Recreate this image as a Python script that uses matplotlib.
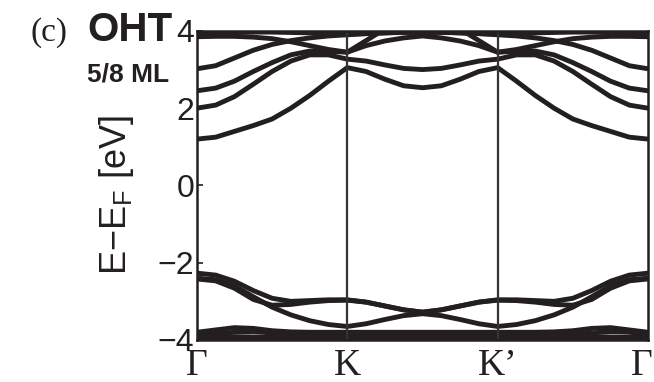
import numpy as np
import matplotlib
matplotlib.use("Agg")
import matplotlib.pyplot as plt
import matplotlib.transforms as mtransforms

plt.rcParams['font.family'] = ['Liberation Sans', 'DejaVu Sans']
plt.rcParams['mathtext.fontset'] = 'custom'
plt.rcParams['mathtext.rm'] = 'Liberation Sans'
plt.rcParams['mathtext.it'] = 'Liberation Sans:italic'

# path position: Γ=0, K=1, K'=2, Γ=3
k_path = [0, 0.125, 0.25, 0.375, 0.5, 0.625, 0.75, 0.875, 1,
          1.125, 1.25, 1.375, 1.5, 1.625, 1.75, 1.875, 2,
          2.125, 2.25, 2.375, 2.5, 2.625, 2.75, 2.875, 3]
k_ticks = [0, 1, 2, 3]
k_labels = ['Γ', 'K', 'K’', 'Γ']

# conduction bands (eV)
c1 = [1.20, 1.25, 1.40, 1.55, 1.72, 2.00, 2.33, 2.70, 3.05, 2.95, 2.75, 2.58, 2.53,
      2.58, 2.75, 2.95, 3.05, 2.70, 2.33, 2.00, 1.72, 1.55, 1.40, 1.25, 1.20]
c2 = [2.00, 2.08, 2.30, 2.62, 2.95, 3.22, 3.38, 3.38, 3.27, 3.22, 3.12, 3.03, 3.00,
      3.03, 3.12, 3.22, 3.27, 3.38, 3.38, 3.22, 2.95, 2.62, 2.30, 2.08, 2.00]
c3 = [2.45, 2.52, 2.70, 2.95, 3.18, 3.38, 3.48, 3.47, 3.45, 3.75, 4.05, 4.25, 4.30,
      4.25, 4.05, 3.75, 3.45, 3.47, 3.48, 3.38, 3.18, 2.95, 2.70, 2.52, 2.45]
c4 = [3.02, 3.10, 3.30, 3.50, 3.65, 3.75, 3.82, 3.87, 3.90, 3.93, 3.95, 3.96, 3.96,
      3.96, 3.95, 3.93, 3.90, 3.87, 3.82, 3.75, 3.65, 3.50, 3.30, 3.10, 3.02]
c5 = [3.85, 3.86, 3.86, 3.84, 3.80, 3.72, 3.62, 3.52, 3.45, 3.62, 3.74, 3.82, 3.87,
      3.82, 3.74, 3.62, 3.45, 3.52, 3.62, 3.72, 3.80, 3.84, 3.86, 3.86, 3.85]
c6 = [3.93, 3.94, 3.96, 3.97, 3.97, 3.96, 3.95, 3.93, 3.92, 3.93, 3.95, 3.97, 3.98,
      3.97, 3.95, 3.93, 3.92, 3.93, 3.95, 3.96, 3.97, 3.97, 3.96, 3.94, 3.93]

# valence bands (eV)
v1 = [-2.27, -2.32, -2.48, -2.72, -2.92, -3.00, -2.98, -2.96, -2.96, -3.02, -3.12, -3.22, -3.28,
      -3.22, -3.12, -3.02, -2.96, -2.96, -2.98, -3.00, -2.92, -2.72, -2.48, -2.32, -2.27]
v2 = [-2.40, -2.44, -2.60, -2.88, -3.15, -3.35, -3.50, -3.60, -3.65, -3.58, -3.47, -3.37, -3.32,
      -3.37, -3.47, -3.58, -3.65, -3.60, -3.50, -3.35, -3.15, -2.88, -2.60, -2.44, -2.40]
v3 = [-2.42, -2.47, -2.66, -2.95, -3.10, -3.08, -3.02, -2.98, -2.97, -3.02, -3.12, -3.22, -3.28,
      -3.22, -3.12, -3.02, -2.97, -2.98, -3.02, -3.08, -3.10, -2.95, -2.66, -2.47, -2.42]
b1 = [-3.80, -3.74, -3.68, -3.70, -3.76, -3.79, -3.80, -3.80, -3.80, -3.80, -3.80, -3.80, -3.80,
      -3.80, -3.80, -3.80, -3.80, -3.80, -3.80, -3.79, -3.76, -3.70, -3.68, -3.74, -3.80]
b2 = [-3.86, -3.84, -3.80, -3.78, -3.82, -3.86, -3.87, -3.88, -3.88, -3.88, -3.88, -3.88, -3.88,
      -3.88, -3.88, -3.88, -3.88, -3.88, -3.88, -3.87, -3.86, -3.82, -3.78, -3.80, -3.86]
b3 = [-3.93, -3.93, -3.92, -3.92, -3.93, -3.94, -3.94, -3.94, -3.94, -3.94, -3.94, -3.94, -3.94,
      -3.94, -3.94, -3.94, -3.94, -3.94, -3.94, -3.94, -3.93, -3.92, -3.92, -3.93, -3.93]
b4 = [-3.98] * 25

bands = [c1, c2, c3, c4, c5, c6, v1, v2, v3, b1, b2, b3, b4]

ink = '#231f20'
fig = plt.figure(figsize=(6.54, 3.82), dpi=100)
ax = fig.add_axes([0.301, 0.110, 0.690, 0.809])

for b in bands:
    ax.plot(k_path, b, color=ink, lw=3.5, solid_joinstyle='round', solid_capstyle='butt')

for kk in k_ticks[1:3]:
    ax.axvline(kk, color='#333333', lw=1.6)

ax.set_xlim(0, 3)
ax.set_ylim(-4, 4)
ax.set_yticks([-4, -2, 0, 2, 4])
ax.set_yticklabels(['−4', '−2', '0', '2', '4'], fontsize=23)
ax.set_xticks(k_ticks)
ax.set_xticklabels(k_labels, fontsize=27, family='Liberation Serif')
ax.tick_params(axis='y', direction='in', length=4, width=1.2, colors=ink, pad=2)
ax.tick_params(axis='x', length=0, pad=6, colors=ink)
for s in ax.spines.values():
    s.set_linewidth(1.8)
    s.set_color(ink)

# keep the last Γ inside the canvas
last = ax.get_xticklabels()[-1]
last.set_transform(last.get_transform() + mtransforms.ScaledTranslation(-6 / 100, 0, fig.dpi_scale_trans))

ax.set_ylabel(r'E$-$E$_{\rm F}$ [eV]', fontsize=26, color=ink)
ax.yaxis.set_label_coords(-0.135, 0.47)

fig.text(0.046, 0.893, '(c)', fontsize=24, family='Liberation Serif', color=ink)
fig.text(0.134, 0.893, 'OHT', fontsize=29, fontweight='bold', color=ink)
fig.text(0.133, 0.787, '5/8 ML', fontsize=19, fontweight='bold', color=ink)

fig.savefig('out.png', dpi=100)
